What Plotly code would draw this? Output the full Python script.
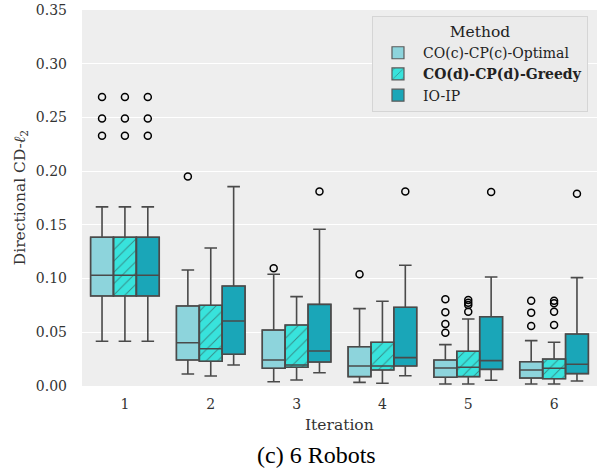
import plotly.graph_objects as go

iterations = [1, 2, 3, 4, 5, 6]
methods = ["CO(c)-CP(c)-Optimal", "CO(d)-CP(d)-Greedy", "IO-IP"]
legend_names = ["CO(c)-CP(c)-Optimal", "<b>CO(d)-CP(d)-Greedy</b>", "IO-IP"]
colors = ["#8DD4DC", "#38E3DC", "#1AA6B8"]
patterns = ["", "/", ""]

# Optimal
opt_lower = [0.0416, 0.0112, 0.0040, 0.0034, 0.0019, 0.0019]
opt_q1 = [0.0838, 0.0242, 0.0165, 0.0087, 0.0081, 0.0074]
opt_med = [0.1031, 0.0403, 0.0242, 0.0186, 0.0168, 0.0149]
opt_q3 = [0.1385, 0.0745, 0.0521, 0.0366, 0.0242, 0.0226]
opt_upper = [0.1667, 0.1080, 0.1040, 0.0720, 0.0385, 0.0422]
opt_out = [[0.269, 0.249, 0.233], [0.195], [0.1096], [0.104],
           [0.0807, 0.0686, 0.0577, 0.0496], [0.0794, 0.0683, 0.0559]]

# Greedy
gr_lower = [0.0416, 0.0093, 0.0056, 0.0025, 0.0019, 0.0019]
gr_q1 = [0.0838, 0.0230, 0.0174, 0.0149, 0.0087, 0.0068]
gr_med = [0.1031, 0.0347, 0.0196, 0.0186, 0.0174, 0.0165]
gr_q3 = [0.1385, 0.0751, 0.0568, 0.0407, 0.0323, 0.0251]
gr_upper = [0.1667, 0.1285, 0.0832, 0.0789, 0.0624, 0.0407]
gr_out = [[0.269, 0.249, 0.233], [], [], [],
          [0.080, 0.0776, 0.0754, 0.0692], [0.0794, 0.077, 0.0692, 0.0568]]

# IO-IP
io_lower = [0.0416, 0.0196, 0.0124, 0.0096, 0.0053, 0.0047]
io_q1 = [0.0838, 0.0295, 0.0223, 0.0186, 0.0155, 0.0115]
io_med = [0.1031, 0.0605, 0.0326, 0.0264, 0.0236, 0.0202]
io_q3 = [0.1385, 0.0931, 0.0760, 0.0733, 0.0645, 0.0484]
io_upper = [0.1667, 0.1856, 0.1459, 0.1124, 0.1015, 0.1009]
io_out = [[0.269, 0.249, 0.233], [], [0.181], [0.181], [0.1806], [0.179]]

stats = [
    (opt_lower, opt_q1, opt_med, opt_q3, opt_upper, opt_out),
    (gr_lower, gr_q1, gr_med, gr_q3, gr_upper, gr_out),
    (io_lower, io_q1, io_med, io_q3, io_upper, io_out),
]

group_width = 0.8
n = len(methods)
bw = group_width / n
offsets = [(-group_width / 2 + bw * (i + 0.5)) for i in range(n)]
line_col = "#4a4a4a"
serif = "DejaVu Serif"

fig = go.Figure()

# box bodies as bars (to allow hatch)
for i, (m, st) in enumerate(zip(methods, stats)):
    lo, q1, med, q3, up, out = st
    xs = [it + offsets[i] for it in iterations]
    fig.add_trace(go.Bar(
        x=xs, y=[b - a for a, b in zip(q1, q3)], base=q1, width=bw,
        name=legend_names[i],
        marker=dict(color=colors[i], line=dict(color="#5a5a5a", width=1.2),
                    pattern=dict(shape=patterns[i], fgcolor="#333333", size=8, solidity=0.12)),
        hoverinfo="skip", showlegend=True,
    ))

# whiskers, medians
for i, (m, st) in enumerate(zip(methods, stats)):
    lo, q1, med, q3, up, out = st
    xs = [it + offsets[i] for it in iterations]
    fig.add_trace(go.Box(
        x=xs, q1=q1, median=med, q3=q3, lowerfence=lo, upperfence=up,
        width=bw, whiskerwidth=0.55, boxpoints=False,
        fillcolor="rgba(0,0,0,0)", line=dict(color=line_col, width=1.6),
        showlegend=False, hoverinfo="skip",
    ))

# outliers
for i, (m, st) in enumerate(zip(methods, stats)):
    out = st[5]
    ox, oy = [], []
    for it, vals in zip(iterations, out):
        for v in vals:
            ox.append(it + offsets[i])
            oy.append(v)
    fig.add_trace(go.Scatter(
        x=ox, y=oy, mode="markers",
        marker=dict(symbol="circle-open", size=7, color="black", line=dict(width=1.5)),
        showlegend=False, hoverinfo="skip",
    ))

fig.update_layout(
    width=600, height=470,
    margin=dict(l=82, r=3, t=10, b=84, autoexpand=False),
    paper_bgcolor="white", plot_bgcolor="#EEEEEE",
    barmode="overlay", boxmode="overlay",
    font=dict(family=serif, size=14, color="#333333"),
    showlegend=True,
    legend=dict(
        title=dict(text="Method", side="top center", font=dict(family=serif, size=15.5, color="#222222")),
        x=0.9825, xanchor="right", y=0.984, yanchor="top",
        bgcolor="#EBEBEB", bordercolor="#D5D5D5", borderwidth=1,
        font=dict(family=serif, size=14, color="#222222"),
        traceorder="normal", itemwidth=40,
    ),
    annotations=[
        dict(text="Iteration", xref="paper", yref="paper", x=0.5, y=-0.104,
             showarrow=False, yanchor="middle", font=dict(family=serif, size=15.5, color="#333333")),
        dict(text="Directional CD-<i>ℓ</i><sub>2</sub>", xref="paper", yref="paper", x=-0.118, y=0.5,
             textangle=-90, showarrow=False, xanchor="center", yanchor="middle",
             font=dict(family=serif, size=15.5, color="#333333")),
        dict(text="(c) 6 Robots", xref="paper", yref="paper", x=0.456, y=-0.1835,
             showarrow=False, yanchor="middle", font=dict(family="Liberation Serif", size=24, color="black")),
    ],
)
fig.update_xaxes(
    range=[0.5, 6.5], tickvals=iterations, ticktext=[str(i) for i in iterations],
    showgrid=False, zeroline=False, showline=False, ticks="", ticklabelstandoff=8,
    automargin=False,
    tickfont=dict(family=serif, size=14, color="#333333"),
)
fig.update_yaxes(
    range=[0, 0.35], dtick=0.05, tickformat=".2f",
    showgrid=True, gridcolor="white", gridwidth=1.2, zeroline=False, showline=False,
    ticks="", ticklabelstandoff=14, automargin=False,
    tickfont=dict(family=serif, size=14, color="#333333"),
)

fig.write_html("out.html", config={"displayModeBar": False},
               post_script="document.body.style.margin='0';document.body.style.padding='0';")
